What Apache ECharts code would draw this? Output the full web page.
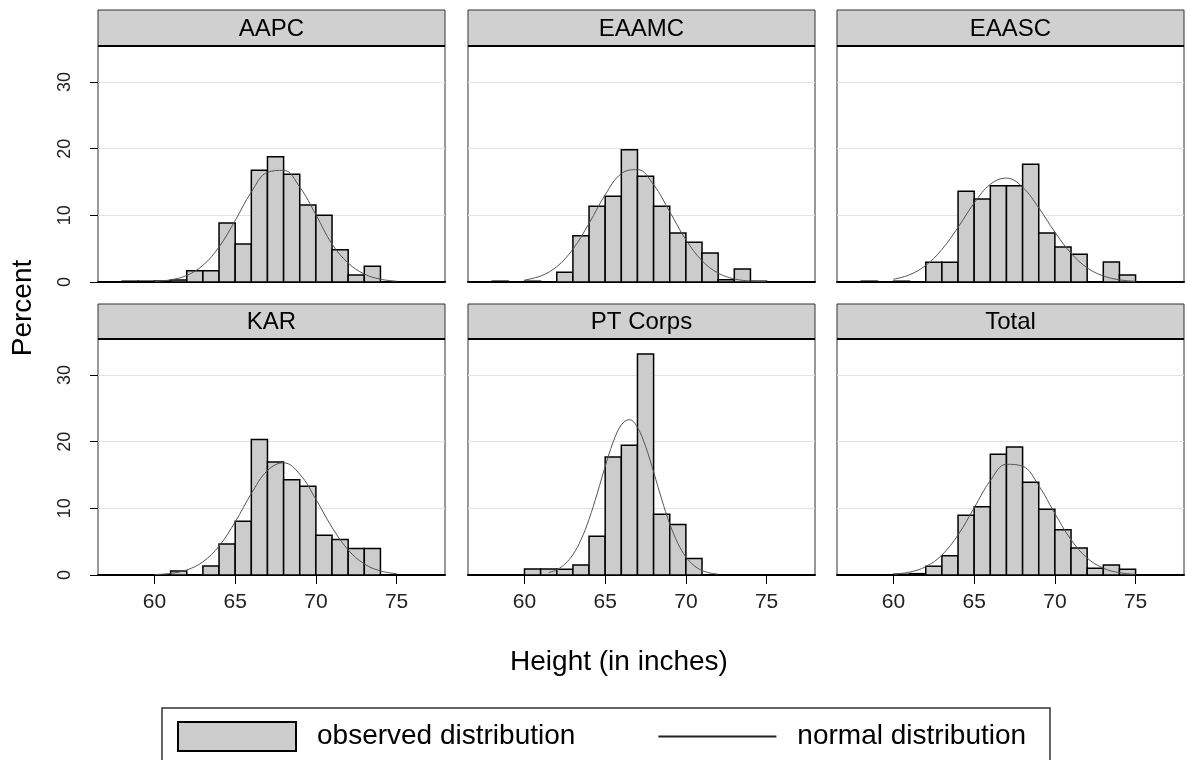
<!DOCTYPE html>
<html>
<head>
<meta charset="utf-8">
<script src="https://cdn.jsdelivr.net/npm/echarts@6/dist/echarts.min.js"></script>
<style>
  html, body { margin: 0; padding: 0; background: #fff; }
  #chart { width: 1186px; height: 760px; }
</style>
</head>
<body>
<div id="chart"></div>
<script>
var panelNames = ['AAPC', 'EAAMC', 'EAASC', 'KAR', 'PT Corps', 'Total'];

// histogram bins: [start, start+1)
var binStart = [58, 59, 60, 61, 62, 63, 64, 65, 66, 67, 68, 69, 70, 71, 72, 73, 74];
var aapcBars  = [0.12, 0.12, 0.15, 0.3, 1.7, 1.7, 8.85, 5.7, 16.75, 18.8, 16.15, 11.55, 10.0, 4.85, 1.05, 2.35, 0];
var eaamcBars = [0.12, 0, 0.12, 0, 1.45, 6.95, 11.35, 12.85, 19.85, 15.85, 11.35, 7.35, 5.95, 4.35, 0.35, 1.95, 0.12];
var eaascBars = [0.12, 0, 0.12, 0, 2.95, 2.95, 13.6, 12.45, 14.45, 14.45, 17.65, 7.35, 5.25, 4.15, 0, 3.0, 1.05];
var karBars   = [0, 0, 0, 0.6, 0, 1.35, 4.65, 8.07, 20.33, 16.94, 14.3, 13.3, 5.98, 5.33, 3.99, 3.99, 0];
var ptBars    = [0, 0, 0.9, 0.9, 0.85, 1.5, 5.83, 17.7, 19.45, 33.15, 9.12, 7.57, 2.49, 0, 0, 0, 0];
var totalBars = [0, 0, 0.1, 0.2, 1.3, 2.9, 8.95, 10.25, 18.1, 19.2, 13.9, 9.85, 6.77, 4.04, 1.0, 1.5, 0.85];

// normal curves
var curveX     = [60, 61, 62, 63, 64, 65, 66, 67, 68, 69, 70, 71, 72, 73, 74, 75];
var aapcCurve  = [0.09, 0.33, 0.99, 2.5, 5.26, 9.22, 13.5, 16.46, 16.75, 14.24, 10.1, 5.7, 2.85, 1.2, 0.42, 0.12];
var eaamcCurve = [0.29, 0.9, 2.3, 4.93, 8.79, 13.09, 16.26, 16.86, 14.59, 10.53, 6.35, 3.19, 1.34, 0.47, 0.14, 0.04];
var eaascCurve = [0.41, 1.09, 2.49, 4.88, 8.2, 11.84, 14.66, 15.59, 14.22, 11.13, 7.48, 4.32, 2.13, 0.91, 0.33, 0.1];
var karCurve   = [0.06, 0.24, 0.76, 1.98, 4.34, 7.96, 12.21, 15.67, 16.83, 15.13, 11.37, 7.15, 3.77, 1.66, 0.61, 0.19];
var totalCurve = [0.13, 0.44, 1.25, 3.0, 6.01, 10.08, 14.15, 16.61, 16.32, 13.41, 9.22, 5.3, 2.55, 1.03, 0.35, 0.1];
var ptCurveX   = [61.5, 62, 62.5, 63, 63.5, 64, 64.5, 65, 65.5, 66, 66.5, 67, 67.5, 68, 68.5, 69, 69.5, 70, 70.5, 71, 71.5, 72];
var ptCurve    = [0.36, 0.79, 1.63, 3.06, 5.28, 8.37, 12.18, 16.27, 19.97, 22.51, 23.3, 22.13, 19.3, 15.46, 11.37, 7.68, 4.77, 2.71, 1.42, 0.68, 0.3, 0.12];

var xTicks = [60, 65, 70, 75];
var yTicks = [0, 10, 20, 30];

var barSets = [aapcBars, eaamcBars, eaascBars, karBars, ptBars, totalBars];
var curveXs = [curveX, curveX, curveX, curveX, ptCurveX, curveX];
var curveSets = [aapcCurve, eaamcCurve, eaascCurve, karCurve, ptCurve, totalCurve];

var FONT = '"Liberation Sans", Arial, sans-serif';
var colLeft = [98, 468, 837];
var rowTop = [46, 339];
var stripTop = [10, 304];
var plotW = 347, plotH = 236;

function renderBar(params, api) {
  var v = api.value(1);
  if (!v) return null;
  var p0 = api.coord([api.value(0), v]);
  var p1 = api.coord([api.value(0) + 1, 0]);
  return {
    type: 'rect',
    shape: { x: p0[0], y: p0[1], width: p1[0] - p0[0], height: p1[1] - p0[1] },
    style: { fill: '#cccccc', stroke: '#000', lineWidth: 1.5 }
  };
}

var grids = [], xAxes = [], yAxes = [], series = [], graphics = [];

panelNames.forEach(function (name, i) {
  var col = i % 3, row = Math.floor(i / 3);
  var left = colLeft[col], top = rowTop[row];
  grids.push({
    left: left, top: top, width: plotW, height: plotH,
    show: true, borderColor: '#333', borderWidth: 1, backgroundColor: '#fff'
  });
  xAxes.push({
    gridIndex: i, type: 'value', min: 56.5, max: 78,
    axisLine: { show: true, lineStyle: { color: '#000', width: 2 } },
    axisTick: { show: row === 1, customValues: xTicks, length: 9, lineStyle: { color: '#000' } },
    axisLabel: { show: row === 1, customValues: xTicks, fontSize: 21, color: '#222', margin: 17, fontFamily: FONT },
    splitLine: { show: false }
  });
  yAxes.push({
    gridIndex: i, type: 'value', min: 0, max: 35.4, interval: 10,
    axisLine: { show: false },
    axisTick: { show: col === 0, customValues: yTicks, length: 8, lineStyle: { color: '#000' } },
    axisLabel: { show: col === 0, customValues: yTicks, rotate: 90, fontSize: 18, color: '#222', margin: 24, fontFamily: FONT },
    splitLine: { show: true, lineStyle: { color: '#e2e2e2', width: 1 } }
  });
  series.push({
    name: 'observed distribution', type: 'custom',
    xAxisIndex: i, yAxisIndex: i,
    itemStyle: { color: '#cccccc', borderColor: '#000', borderWidth: 1.5 },
    renderItem: renderBar,
    encode: { x: 0, y: 1 },
    data: binStart.map(function (b, k) { return [b, barSets[i][k]]; }),
    z: 2
  });
  series.push({
    name: 'normal distribution', type: 'line',
    xAxisIndex: i, yAxisIndex: i,
    symbol: 'none', smooth: 0.4,
    lineStyle: { color: '#555', width: 1 },
    itemStyle: { color: '#222' },
    data: curveXs[i].map(function (x, k) { return [x, curveSets[i][k]]; }),
    z: 3
  });
  // strip header
  var sh = row === 0 ? 36 : 35;
  graphics.push({
    type: 'rect', z: 10,
    shape: { x: left, y: stripTop[row], width: plotW, height: sh },
    style: { fill: '#d0d0d0', stroke: '#333', lineWidth: 1 }
  });
  graphics.push({
    type: 'line', z: 11,
    shape: { x1: left, y1: stripTop[row] + sh, x2: left + plotW, y2: stripTop[row] + sh },
    style: { stroke: '#000', lineWidth: 2 }
  });
  graphics.push({
    type: 'text', z: 12,
    x: left + plotW / 2, y: stripTop[row] + sh / 2 + 1,
    style: { text: name, align: 'center', verticalAlign: 'middle', fontSize: 24, fontFamily: FONT, fill: '#000' }
  });
});

graphics.push({
  type: 'text', x: 23, y: 308, rotation: Math.PI / 2,
  style: { text: 'Percent', align: 'center', verticalAlign: 'middle', fontSize: 28, fontFamily: FONT, fill: '#000' }
});
graphics.push({
  type: 'text', x: 619, y: 662,
  style: { text: 'Height (in inches)', align: 'center', verticalAlign: 'middle', fontSize: 28, fontFamily: FONT, fill: '#000' }
});
graphics.push({
  type: 'rect',
  shape: { x: 162, y: 708, width: 888, height: 80 },
  style: { fill: 'none', stroke: '#333', lineWidth: 1.5 }
});

var myChart = echarts.init(document.getElementById('chart'));
myChart.setOption({
  backgroundColor: '#fff',
  animation: false,
  grid: grids,
  xAxis: xAxes,
  yAxis: yAxes,
  legend: {
    left: 177, top: 721, padding: 0,
    itemWidth: 118, itemHeight: 29, itemGap: 82,
    textStyle: { fontSize: 28, color: '#000', fontFamily: FONT, padding: [0, 0, 0, 16] },
    data: [
      { name: 'observed distribution', icon: 'rect', itemStyle: { color: '#cccccc', borderColor: '#000', borderWidth: 2 } },
      { name: 'normal distribution', lineStyle: { color: '#222', width: 2 }, itemStyle: { color: 'transparent', opacity: 0, borderWidth: 0 } }
    ],
    selectedMode: false
  },
  graphic: graphics,
  series: series
});
</script>
</body>
</html>
